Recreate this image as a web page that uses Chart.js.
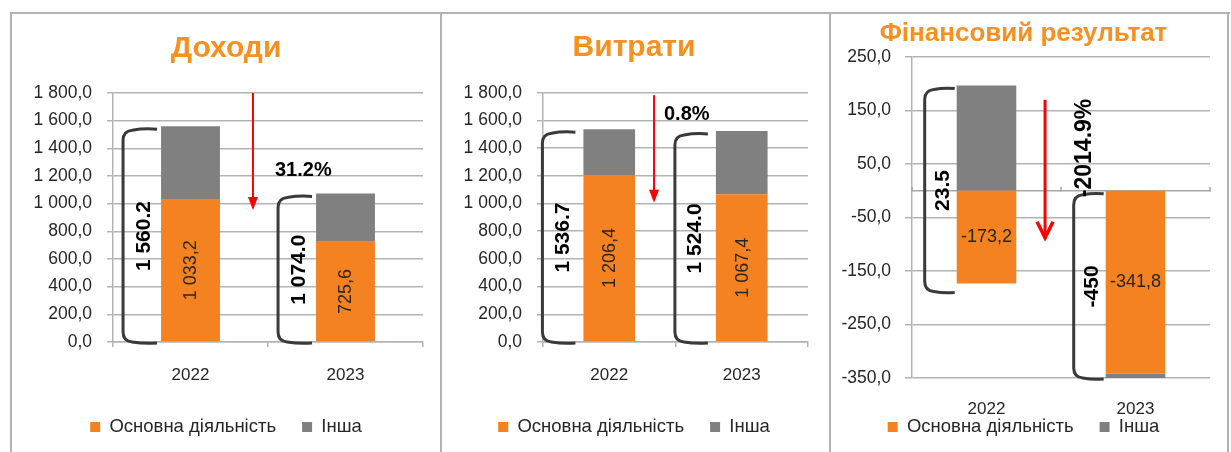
<!DOCTYPE html>
<html><head><meta charset="utf-8">
<script src="https://cdn.jsdelivr.net/npm/chart.js@4.4.1/dist/chart.umd.min.js"></script>
<style>
html,body{margin:0;padding:0;background:#fff;}
body{width:1231px;height:452px;position:relative;overflow:hidden;font-family:'Liberation Sans',Arial,sans-serif;}
canvas{position:absolute;}
.ln{position:absolute;background:#b3b3b3;}
</style></head><body>
<canvas id="c1" width="428" height="438" style="left:12px;top:14px"></canvas>
<canvas id="c2" width="387" height="438" style="left:442px;top:14px"></canvas>
<canvas id="c3" width="396" height="438" style="left:831px;top:14px"></canvas>
<div class="ln" style="left:10px;top:12px;width:1220px;height:2px"></div>
<div class="ln" style="left:10px;top:12px;width:2px;height:440px"></div>
<div class="ln" style="left:440px;top:12px;width:2px;height:440px"></div>
<div class="ln" style="left:829px;top:12px;width:2px;height:440px"></div>
<div class="ln" style="left:1227px;top:12px;width:2px;height:440px"></div>
<script>
// ---- data ----
const categories = ['2022', '2023'];
const seriesNames = ['Основна діяльність', 'Інша'];

const incomeTitle = 'Доходи';
const incomeMain = [1033.2, 725.6];
const incomeOther = [527.0, 348.4];
const incomeTotals = ['1 560.2', '1 074.0'];
const incomeChange = '31.2%';

const expenseTitle = 'Витрати';
const expenseMain = [1206.4, 1067.4];
const expenseOther = [330.3, 456.6];
const expenseTotals = ['1 536.7', '1 524.0'];
const expenseChange = '0.8%';

const resultTitle = 'Фінансовий результат';
const resultMain = [-173.2, -341.8];
const resultOther = [196.7, -108.2];
const resultTotals = ['23.5', '-450'];
const resultChange = '-2014.9%';

// ---- styles ----
const FONT = "'Liberation Sans', Arial, sans-serif";
const ORANGE = '#F58220';
const GREY = '#808080';
const TITLE = '#F7901E';
const AXIS = '#b3b3b3';
const TEXT = '#262626';
const RED = '#FF0000';

function fmt(v) {
  const s = Math.abs(v).toFixed(1).split('.');
  const int = s[0].replace(/\B(?=(\d{3})+(?!\d))/g, ' ');
  return (v < 0 ? '-' : '') + int + ',' + s[1];
}

function drawBracket(ctx, xl, xr, yt, yb) {
  const r = 9;
  ctx.beginPath();
  ctx.moveTo(xr, yt);
  ctx.quadraticCurveTo((xl + xr) / 2 + 4, yt - 1, xl + r, yt + 1);
  ctx.quadraticCurveTo(xl, yt + 2, xl, yt + r + 2);
  ctx.lineTo(xl, yb - r - 2);
  ctx.quadraticCurveTo(xl, yb - 2, xl + r, yb - 1);
  ctx.quadraticCurveTo((xl + xr) / 2 + 4, yb + 1, xr, yb);
  ctx.stroke();
}

function annot(p) {
  return {
    id: 'annot',
    beforeDatasetsDraw(chart) {
      if (!p.zeroLine) return;
      const {ctx, chartArea: a, scales: {x, y}} = chart;
      const y0 = y.getPixelForValue(0);
      ctx.save();
      ctx.strokeStyle = '#a6a6a6';
      ctx.lineWidth = 1.5;
      ctx.beginPath();
      ctx.moveTo(a.left, y0); ctx.lineTo(a.right, y0);
      for (let i = 0; i <= categories.length; i++) {
        const xx = x.getPixelForValue(i - 0.5);
        ctx.moveTo(xx, y0 - 4); ctx.lineTo(xx, y0 + 1);
      }
      ctx.stroke();
      ctx.restore();
    },
    afterDatasetsDraw(chart) {
      const {ctx, chartArea: a, scales: {x, y}} = chart;
      const meta = chart.getDatasetMeta(0);
      ctx.save();
      // category labels drawn low under the plot (financial result panel)
      if (p.zeroLine) {
        ctx.fillStyle = TEXT;
        ctx.font = '17px ' + FONT;
        ctx.textAlign = 'center';
        ctx.textBaseline = 'middle';
        categories.forEach((c, i) => ctx.fillText(c, x.getPixelForValue(i), a.bottom + p.xLabelOff));
      }
      // value labels in the orange bars
      meta.data.forEach((el, i) => {
        const top = Math.max(Math.min(el.y, el.base), a.top);
        const bot = Math.min(Math.max(el.y, el.base), a.bottom);
        const cy = (top + bot) / 2;
        ctx.fillStyle = TEXT;
        ctx.textAlign = 'center';
        ctx.textBaseline = 'middle';
        ctx.font = '18px ' + FONT;
        if (p.rotValues) {
          ctx.save();
          ctx.translate(el.x, cy);
          ctx.rotate(-Math.PI / 2);
          ctx.fillText(fmt(p.main[i]), 0, 1);
          ctx.restore();
        } else {
          ctx.fillText(fmt(p.main[i]), el.x, cy);
        }
      });
      // brackets with totals
      ctx.strokeStyle = '#3a3a3a';
      ctx.lineWidth = 3;
      categories.forEach((c, i) => {
        const vals = [p.main[i], p.other[i]];
        const pos = vals.filter(v => v > 0).reduce((s, v) => s + v, 0);
        const neg = vals.filter(v => v < 0).reduce((s, v) => s + v, 0);
        const el = meta.data[i];
        const left = el.x - el.width / 2;
        const xl = left - p.brL, xr = left - p.brR;
        const yt = y.getPixelForValue(pos) + 3;
        const yb = Math.min(y.getPixelForValue(neg) + p.brExt, a.bottom + 1);
        drawBracket(ctx, xl, xr, yt, yb);
        ctx.save();
        ctx.fillStyle = '#000';
        ctx.font = 'bold 21px ' + FONT;
        ctx.textAlign = 'center';
        ctx.textBaseline = 'middle';
        ctx.translate((xl + xr) / 2 + 4, (yt + yb) / 2);
        ctx.rotate(-Math.PI / 2);
        ctx.fillText(p.totals[i], 0, 0);
        ctx.restore();
      });
      // red arrow
      const ax = x.getPixelForValue(p.arrow.x);
      const ay1 = y.getPixelForValue(p.arrow.from);
      const ay2 = y.getPixelForValue(p.arrow.to);
      ctx.strokeStyle = RED; ctx.fillStyle = RED;
      ctx.lineWidth = p.arrow.w;
      ctx.beginPath();
      ctx.moveTo(ax, ay1);
      ctx.lineTo(ax, ay2 - (p.arrow.open ? 2 : 10));
      ctx.stroke();
      if (p.arrow.open) {
        ctx.lineWidth = 3.5;
        ctx.beginPath();
        ctx.moveTo(ax - 8, ay2 - 16); ctx.lineTo(ax, ay2); ctx.lineTo(ax + 8, ay2 - 16);
        ctx.stroke();
      } else {
        ctx.beginPath();
        ctx.moveTo(ax - 5, ay2 - 13); ctx.lineTo(ax + 5, ay2 - 13); ctx.lineTo(ax, ay2);
        ctx.closePath(); ctx.fill();
      }
      // change label
      ctx.fillStyle = '#000';
      ctx.font = 'bold ' + p.pct.size + 'px ' + FONT;
      ctx.textBaseline = 'middle';
      const px = x.getPixelForValue(p.pct.x), py = y.getPixelForValue(p.pct.v);
      if (p.pct.rot) {
        ctx.textAlign = 'center';
        ctx.translate(px, py);
        ctx.rotate(-Math.PI / 2);
        ctx.fillText(p.change, 0, 0);
      } else {
        ctx.textAlign = 'left';
        ctx.fillText(p.change, px, py);
      }
      ctx.restore();
    }
  };
}

function build(id, p) {
  const xScale = p.zeroLine ? {
    stacked: true,
    grid: {display: false, drawTicks: false},
    border: {display: false},
    ticks: {display: false},
    afterFit: s => { s.height = p.xH; }
  } : {
    stacked: true,
    grid: {display: true, drawOnChartArea: false, drawTicks: true, tickLength: 5, color: AXIS, lineWidth: 1.5},
    border: {display: true, color: AXIS, width: 1.5},
    ticks: {padding: p.xPad, color: TEXT, font: {family: FONT, size: 17}},
    afterFit: s => { s.height = p.xH; }
  };
  return new Chart(document.getElementById(id), {
    type: 'bar',
    data: {
      labels: categories,
      datasets: [
        {label: seriesNames[0], data: p.main, backgroundColor: ORANGE, barPercentage: p.barPct, categoryPercentage: 1},
        {label: seriesNames[1], data: p.other, backgroundColor: GREY, barPercentage: p.barPct, categoryPercentage: 1}
      ]
    },
    options: {
      responsive: false, animation: false, devicePixelRatio: 1,
      layout: {padding: {left: p.padL, right: p.padR, top: 0, bottom: p.padB}},
      plugins: {
        title: {display: true, text: p.title, color: TITLE,
          font: {family: FONT, size: p.titleSize, weight: 'bold', lineHeight: 1.2},
          padding: {top: p.tTop, bottom: p.tBot}},
        legend: {position: 'bottom',
          labels: {boxWidth: 10, boxHeight: 10, color: TEXT, font: {family: FONT, size: 18.5}, padding: 26}},
        tooltip: {enabled: false}
      },
      scales: {
        x: xScale,
        y: {
          stacked: true, min: p.min, max: p.max,
          ticks: {stepSize: p.step, callback: v => fmt(v), color: TEXT, font: {family: FONT, size: 17.5}, padding: p.yPad},
          grid: {color: AXIS, lineWidth: 1.5, tickLength: p.yTick},
          border: {display: true, color: AXIS, width: 1.5},
          afterFit: s => { s.width = p.yW; }
        }
      }
    },
    plugins: [annot(p)]
  });
}

build('c1', {
  title: incomeTitle, main: incomeMain, other: incomeOther, totals: incomeTotals, change: incomeChange,
  min: 0, max: 1800, step: 200, barPct: 0.38, rotValues: true,
  padL: 17, padR: 17, padB: 5.75, yW: 84, yPad: 15, yTick: 6, xH: 49.75, xPad: 18,
  titleSize: 30, tTop: 17, tBot: 26,
  brL: 38, brR: 4, brExt: 15,
  arrow: {x: 0.403, from: 1800, to: 954, w: 2},
  pct: {x: 0.545, v: 1243, size: 20}
});
build('c2', {
  title: expenseTitle, main: expenseMain, other: expenseOther, totals: expenseTotals, change: expenseChange,
  min: 0, max: 1800, step: 200, barPct: 0.39, rotValues: true,
  padL: 18, padR: 21, padB: 5.75, yW: 83, yPad: 15, yTick: 6, xH: 49.75, xPad: 18,
  titleSize: 30, tTop: 15.5, tBot: 27.2,
  brL: 41, brR: 8, brExt: 15,
  arrow: {x: 0.338, from: 1782, to: 1005, w: 2},
  pct: {x: 0.413, v: 1640, size: 20}
});
build('c3', {
  title: resultTitle, main: resultMain, other: resultOther, totals: resultTotals, change: resultChange,
  min: -350, max: 250, step: 100, barPct: 0.40, rotValues: false, zeroLine: true,
  padL: 6, padR: 17, padB: 5.75, yW: 75, yPad: 14, yTick: 7, xH: 13.75, xLabelOff: 31,
  titleSize: 26, tTop: 4.4, tBot: 7.4,
  brL: 32, brR: 2, brExt: 9,
  arrow: {x: 0.393, from: 170, to: -88, w: 3, open: true},
  pct: {x: 0.661, v: 80, size: 23, rot: true}
});
</script>
</body></html>
